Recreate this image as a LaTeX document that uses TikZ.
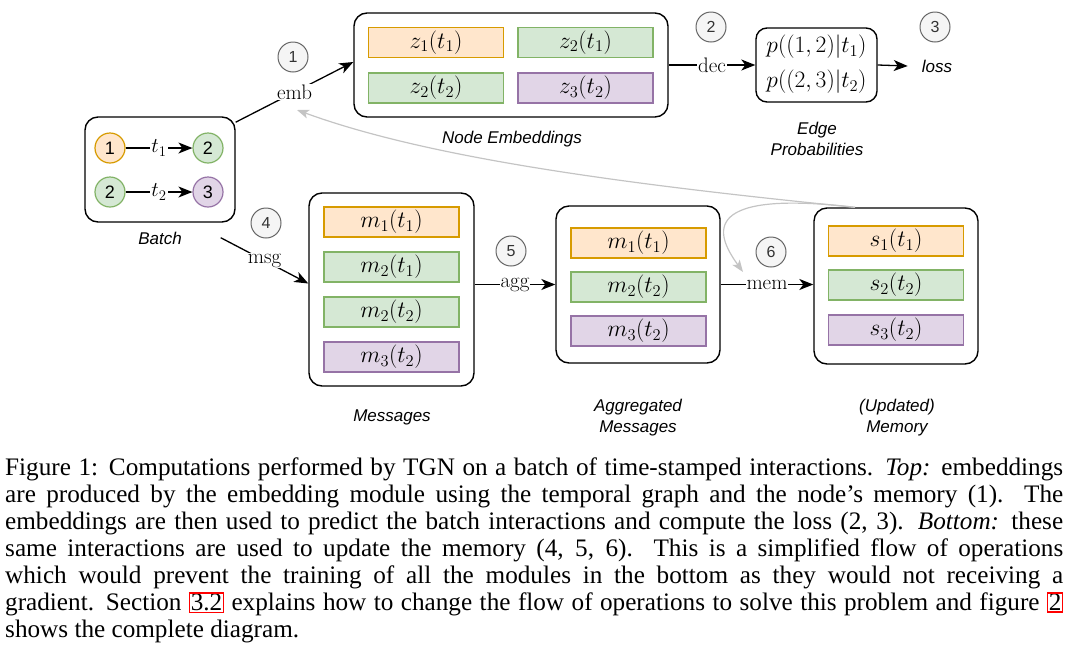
\RequirePackage{fix-cm}
\documentclass[tikz,border=0pt]{standalone}
\usepackage[no-math]{fontspec}
\newfontfamily\capfont{Liberation Serif}
\newfontfamily\sansf{Liberation Sans}
\usetikzlibrary{arrows.meta,calc}
\definecolor{orF}{HTML}{FFE6CC}\definecolor{orD}{HTML}{D79B00}
\definecolor{grF}{HTML}{D5E8D4}\definecolor{grD}{HTML}{82B366}
\definecolor{puF}{HTML}{E1D5E7}\definecolor{puD}{HTML}{9673A6}
\definecolor{nuF}{HTML}{F5F5F5}\definecolor{nuD}{HTML}{666666}
\definecolor{ghost}{HTML}{C4C4C4}
\definecolor{refred}{HTML}{FF0000}
\newcommand{\refbox}[1]{{\fboxsep=0.5pt\fboxrule=1.3pt\fcolorbox{refred}{white}{#1}}}
\tikzset{
  outer/.style={draw, line width=1.4pt, rounded corners=13pt, fill=white, inner sep=0pt},
  cell/.style={draw, line width=1.2pt, minimum width=135pt, minimum height=30pt, inner sep=0pt, font=\fontsize{23.5}{27}\selectfont},
  orc/.style={cell, fill=orF, draw=orD},
  grc/.style={cell, fill=grF, draw=grD},
  puc/.style={cell, fill=puF, draw=puD},
  num/.style={circle, draw=nuD, fill=nuF, line width=1pt, minimum size=30pt, inner sep=0pt, text=black!80, font=\sansf\fontsize{16}{18}\selectfont},
  bnode/.style={circle, line width=1.2pt, minimum size=30pt, inner sep=0pt, font=\sansf\fontsize{18}{20}\selectfont},
  lab/.style={align=center, inner sep=0pt, font=\sansf\itshape\fontsize{17}{20.5}\selectfont},
  edge/.style={line width=1.3pt, -{Stealth[length=14pt,width=11pt,inset=4pt]}},
  gedge/.style={line width=1.2pt, draw=ghost, -{Stealth[length=12pt,width=9pt,inset=3pt]}},
  elab/.style={fill=white, inner sep=1pt, font=\fontsize{21}{24}\selectfont},
}
\begin{document}
\begin{tikzpicture}[x=1pt,y=-1pt]
\useasboundingbox (0,0) rectangle (1075,662);
% Batch
\node[outer, minimum width=150pt, minimum height=105pt] (batch) at (160,169.5) {};
\node[bnode, fill=orF, draw=orD] (b1) at (110,148) {1};
\node[bnode, fill=grF, draw=grD] (b2) at (208,148) {2};
\node[bnode, fill=grF, draw=grD] (c2) at (110,192) {2};
\node[bnode, fill=puF, draw=puD] (c3) at (208,192) {3};
\draw[edge] (b1) -- node[elab]{$t_1$} (b2);
\draw[edge] (c2) -- node[elab]{$t_2$} (c3);
\node[lab] (batchlab) at (160,238) {Batch};
% Node embeddings
\node[outer, minimum width=314pt, minimum height=104pt] (ne) at (511,65) {};
\node[orc] (z11) at (436,42.5) {$z_1(t_1)$};
\node[grc] (z21) at (585.5,42.5) {$z_2(t_1)$};
\node[grc] (z22) at (436,88) {$z_2(t_2)$};
\node[puc] (z32) at (585.5,88) {$z_3(t_2)$};
\node[lab] (nelab) at (512,139) {Node Embeddings};
% Edge probabilities
\node[outer, rounded corners=11pt, minimum width=121pt, minimum height=74pt] (ep) at (816.5,65) {};
\node[inner sep=0pt, font=\fontsize{23.5}{27}\selectfont] (p1) at (816.5,47) {$p((1,2)|t_1)$};
\node[inner sep=0pt, font=\fontsize{23.5}{27}\selectfont] (p2) at (816.5,82) {$p((2,3)|t_2)$};
\node[lab] (eplab) at (817,139) {Edge\\Probabilities};
\node[lab] (loss) at (937,66) {loss};
% Messages
\node[outer, minimum width=165pt, minimum height=193pt] (msg) at (391.5,289.5) {};
\node[orc] (m11) at (391.5,222) {$m_1(t_1)$};
\node[grc] (m21) at (391.5,267) {$m_2(t_1)$};
\node[grc] (m22) at (391.5,312) {$m_2(t_2)$};
\node[puc] (m32) at (391.5,357) {$m_3(t_2)$};
\node[lab] (msglab) at (392,417) {Messages};
% Aggregated
\node[outer, minimum width=164pt, minimum height=157pt] (agg) at (638,284.5) {};
\node[orc] (a11) at (638.5,243) {$m_1(t_1)$};
\node[grc] (a22) at (638.5,287) {$m_2(t_2)$};
\node[puc] (a32) at (638.5,331) {$m_3(t_2)$};
\node[lab] (agglab) at (638,417.5) {Aggregated\\Messages};
% Memory
\node[outer, minimum width=164pt, minimum height=156pt] (mem) at (896,286) {};
\node[orc] (s11) at (896,241) {$s_1(t_1)$};
\node[grc] (s22) at (896,285) {$s_2(t_2)$};
\node[puc] (s32) at (896,330) {$s_3(t_2)$};
\node[lab] (memlab) at (897,417.5) {(Updated)\\Memory};
% numbers
\node[num] (n1) at (293,57) {1};
\node[num] (n2) at (711,27) {2};
\node[num] (n3) at (935,27) {3};
\node[num] (n4) at (266,223) {4};
\node[num] (n5) at (511,251) {5};
\node[num] (n6) at (771,252) {6};
% gray feedback arrows
\coordinate (gstart) at ([xshift=-41pt]mem.north);
\coordinate (embtip) at (297,110);
\coordinate (memtip) at (743,272);
\draw[gedge] (gstart) .. controls (600,182) and (420,155) .. (embtip);
\draw[gedge] (gstart) .. controls (690,188) and (720,240) .. (memtip);
% main edges
\draw[edge] (batch.32) -- node[elab]{emb} ([yshift=3pt]ne.west);
\draw[edge] ([xshift=-15pt,yshift=-15pt]batch.south east) -- node[elab]{msg} ([yshift=6pt]msg.west);
\draw[edge] (ne.east) -- node[elab]{dec} (ep.west);
\draw[edge] (ep.east) -- ([xshift=-14pt]loss.west);
\draw[edge] (msg.east |- agg.west) -- node[elab]{agg} (agg.west);
\draw[edge] (agg.east) -- node[elab]{mem} (agg.east -| mem.west);
% caption
\node[anchor=north west, inner sep=0pt, text width=1058pt, align=justify, font=\capfont\fontsize{25.2}{27}\selectfont] (cap) at (5,458) {Figure 1: Computations performed by TGN on a batch of time-stamped interactions. \textit{Top:} embeddings\linebreak are produced by the embedding module using the temporal graph and the node’s memory (1). The\linebreak embeddings are then used to predict the batch interactions and compute the loss (2, 3). \textit{Bottom:} these\linebreak same interactions are used to update the memory (4, 5, 6). This is a simplified flow of operations\linebreak which would prevent the training of all the modules in the bottom as they would not receiving a\linebreak gradient. Section \refbox{3.2} explains how to change the flow of operations to solve this problem and figure \refbox{2}\linebreak shows the complete diagram.};
\end{tikzpicture}
\end{document}
